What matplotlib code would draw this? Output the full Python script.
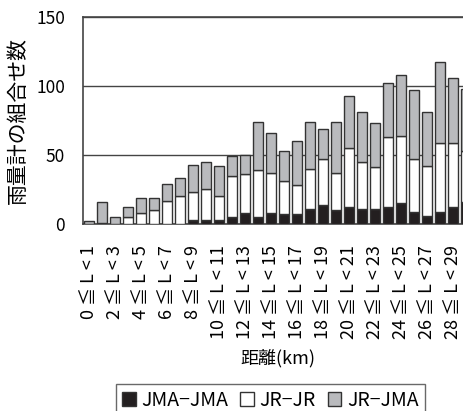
import matplotlib.pyplot as plt
import numpy as np

plt.rcParams['font.family'] = ['Noto Sans CJK JP', 'DejaVu Sans']

# 距離区分 (1 km ごと)
labels = ['%d ≦ L < %d' % (i, i + 1) for i in range(30)]
# 各区分の雨量計の組合せ数
jma_jma = [0, 1, 0, 0, 0, 0, 0, 0, 3, 3, 3, 5, 8, 5, 8,
           7, 7, 11, 14, 10, 12, 11, 11, 12, 15, 9, 6, 9, 12, 16]
jr_jr = [0, 0, 0, 5, 8, 10, 17, 20, 20, 22, 17, 30, 28, 34, 29,
         24, 21, 29, 33, 27, 43, 34, 30, 51, 49, 38, 36, 50, 47, 37]
jr_jma = [2, 15, 5, 7, 11, 9, 12, 13, 20, 20, 22, 14, 14, 35, 29,
          22, 32, 34, 22, 37, 38, 36, 32, 39, 44, 50, 39, 58, 47, 45]

x = np.arange(len(labels))
jma_jma = np.array(jma_jma)
jr_jr = np.array(jr_jr)
jr_jma = np.array(jr_jma)

fig = plt.figure(figsize=(4.64, 4.11), dpi=100)
ax = fig.add_axes([0.179, 0.455, 0.839, 0.504])

edge = '#333333'
w = 0.75
b1 = ax.bar(x, jma_jma, w, color='#231f20', edgecolor=edge, linewidth=1.0, label='JMA−JMA', zorder=3)
b2 = ax.bar(x, jr_jr, w, bottom=jma_jma, color='white', edgecolor=edge, linewidth=1.0, label='JR−JR', zorder=3)
b3 = ax.bar(x, jr_jma, w, bottom=jma_jma + jr_jr, color='#b9babd', edgecolor=edge, linewidth=1.0, label='JR−JMA', zorder=3)

ax.set_xlim(-0.46, 29.5)
ax.set_ylim(0, 150)
ax.set_yticks([0, 50, 100, 150])
ax.yaxis.grid(True, color='#444444', linewidth=1.0, zorder=0)
ax.set_axisbelow(True)

ax.set_xticks(x[::2])
ax.set_xticklabels(labels[::2], rotation=90, fontsize=13)
ax.tick_params(axis='x', length=0, pad=15)
ax.tick_params(axis='y', length=0, pad=13, labelsize=12.5)

for s in ax.spines.values():
    s.set_color('#444444')
    s.set_linewidth(1.2)

ax.set_ylabel('雨量計の組合せ数', fontsize=15)
ax.yaxis.set_label_coords(-0.139, 0.5)
ax.set_xlabel('距離(km)', fontsize=13, labelpad=7)

fig.legend(handles=[b1, b2, b3], loc='upper center', bbox_to_anchor=(0.583, 0.066),
           ncol=3, fontsize=14, frameon=True, fancybox=False, edgecolor='#444444',
           handlelength=0.7, handleheight=0.7, handletextpad=0.3, columnspacing=0.6,
           borderpad=0.3, borderaxespad=0)

plt.savefig('out.png', dpi=100)
